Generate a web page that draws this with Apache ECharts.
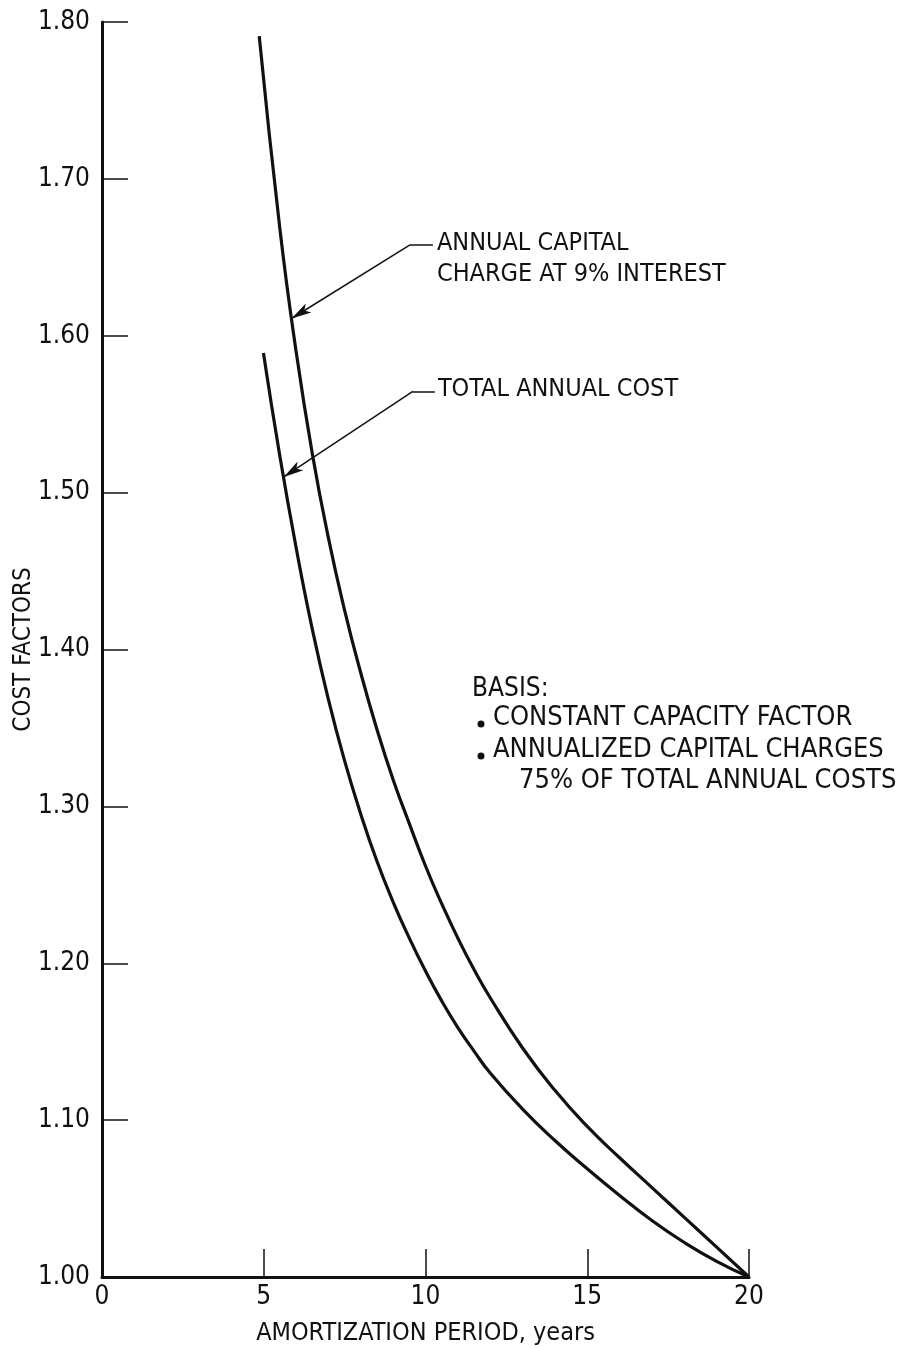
<!DOCTYPE html>
<html><head><meta charset="utf-8">
<script src="https://cdn.jsdelivr.net/npm/echarts@6/dist/echarts.min.js"></script>
<style>html,body{margin:0;padding:0;background:#fff}#c{width:899px;height:1349px}</style>
</head><body><div id="c"></div>
<script>
// ---- data ----
const capitalX = [4.86, 5.5, 6.0, 6.5, 7.0, 7.5, 8.0, 8.5, 9.0, 9.5, 10, 10.5, 11, 11.5, 12, 13, 14, 15, 16, 17, 18, 19, 20];
const capitalY = [1.791, 1.668, 1.590, 1.525, 1.471, 1.425, 1.385, 1.349, 1.317, 1.289, 1.262, 1.238, 1.216, 1.196, 1.178, 1.146, 1.119, 1.096, 1.076, 1.057, 1.038, 1.019, 1.000];
const totalX = [4.99, 5.5, 6.0, 6.5, 7.0, 7.5, 8.0, 8.5, 9.0, 9.5, 10, 10.5, 11, 11.5, 12, 13, 14, 15, 16, 17, 18, 19, 20];
const totalY = [1.589, 1.523, 1.465, 1.413, 1.368, 1.329, 1.295, 1.265, 1.239, 1.216, 1.195, 1.176, 1.159, 1.144, 1.130, 1.107, 1.087, 1.069, 1.052, 1.036, 1.022, 1.010, 1.000];
const xTickValues = [0, 5, 10, 15, 20];
const yTickValues = [1.00, 1.10, 1.20, 1.30, 1.40, 1.50, 1.60, 1.70, 1.80];
const capitalLabel = ['ANNUAL CAPITAL', 'CHARGE AT 9% INTEREST'];
const totalLabel = ['TOTAL ANNUAL COST'];
const basisTitle = 'BASIS:';
const basisBullets = ['CONSTANT CAPACITY FACTOR', 'ANNUALIZED CAPITAL CHARGES'];
const basisContinuation = '75% OF TOTAL ANNUAL COSTS';
const xAxisTitle = 'AMORTIZATION PERIOD, years';
const yAxisTitle = 'COST FACTORS';
// annotation leader anchors (data units)
const capArrow = { tip: [5.86, 1.611], elbow: [9.52, 1.658], end: [10.23, 1.658] };
const totArrow = { tip: [5.62, 1.510], elbow: [9.61, 1.5645], end: [10.29, 1.5645] };

const FONT = "'Liberation Sans Narrow','DejaVu Sans Condensed','Liberation Sans',sans-serif";
const INK = '#111';

const pairs = (xs, ys) => xs.map((x, i) => [x, ys[i]]);

function leader(a) {
  return [
    [{ coord: a.end, symbol: 'none' }, { coord: a.elbow, symbol: 'none' }],
    [{ coord: a.elbow, symbol: 'none' }, { coord: a.tip, symbol: 'arrow', symbolSize: [8, 20] }]
  ];
}

const chart = echarts.init(document.getElementById('c'));
const option = {
  animation: false,
  backgroundColor: '#fff',
  grid: { left: 102, right: 150, top: 22, bottom: 72, outerBoundsMode: 'none', containLabel: false },
  xAxis: {
    type: 'value', min: 0, max: 20, interval: 5,
    name: xAxisTitle, nameLocation: 'middle', nameGap: 44, nameMoveOverlap: false,
    nameTextStyle: { fontFamily: FONT, fontSize: 25, color: INK },
    axisLine: { show: true, onZero: false, lineStyle: { color: INK, width: 3 } },
    axisTick: { show: true, inside: true, length: 28, lineStyle: { color: INK, width: 1.5 } },
    axisLabel: { fontFamily: FONT, fontSize: 26, color: INK, margin: 7,
      formatter: v => xTickValues.includes(v) ? String(v) : '' },
    splitLine: { show: false }
  },
  yAxis: {
    type: 'value', min: 1.0, max: 1.8, interval: 0.1,
    name: yAxisTitle, nameLocation: 'middle', nameGap: 66, nameMoveOverlap: false,
    nameTextStyle: { fontFamily: FONT, fontSize: 24, color: INK },
    axisLine: { show: true, lineStyle: { color: INK, width: 3 } },
    axisTick: { show: true, inside: true, length: 26, lineStyle: { color: INK, width: 1.5 } },
    axisLabel: { fontFamily: FONT, fontSize: 26, color: INK, margin: 12,
      formatter: v => v.toFixed(2) },
    splitLine: { show: false }
  },
  series: [
    {
      name: 'capital', type: 'line', data: pairs(capitalX, capitalY), smooth: 0.5,
      symbol: 'none', lineStyle: { color: INK, width: 3.2 },
      markLine: {
        silent: true, animation: false, symbol: ['none', 'arrow'],
        label: { show: false },
        lineStyle: { color: INK, width: 1.5, type: 'solid' },
        data: leader(capArrow).concat(leader(totArrow))
      }
    },
    {
      name: 'total', type: 'line', data: pairs(totalX, totalY), smooth: 0.5,
      symbol: 'none', lineStyle: { color: INK, width: 3.2 }
    }
  ],
  graphic: []
};
chart.setOption(option);

function px(p) { return chart.convertToPixel({ gridIndex: 0 }, p); }
const g = [];
const textStyle = (size) => ({ fontFamily: FONT, fontSize: size, fill: INK });
// leader labels
const cp = px(capArrow.end);
capitalLabel.forEach((t, i) => g.push({ type: 'text', left: cp[0] + 4, top: cp[1] - 14 + i * 31,
  style: Object.assign({ text: t }, textStyle(25)) }));
const tp = px(totArrow.end);
totalLabel.forEach((t, i) => g.push({ type: 'text', left: tp[0] + 3, top: tp[1] - 14 + i * 31,
  style: Object.assign({ text: t }, textStyle(25)) }));
// basis block
g.push({ type: 'text', left: 472, top: 676, style: Object.assign({ text: basisTitle }, textStyle(26)) });
basisBullets.forEach((t, i) => {
  g.push({ type: 'circle', shape: { cx: 481, cy: 724 + i * 32, r: 3.5 }, style: { fill: INK } });
  g.push({ type: 'text', left: 493, top: 704 + i * 32, style: Object.assign({ text: t }, textStyle(27)) });
});
g.push({ type: 'text', left: 519, top: 767, style: Object.assign({ text: basisContinuation }, textStyle(27)) });
chart.setOption({ graphic: g });
</script>
</body></html>
